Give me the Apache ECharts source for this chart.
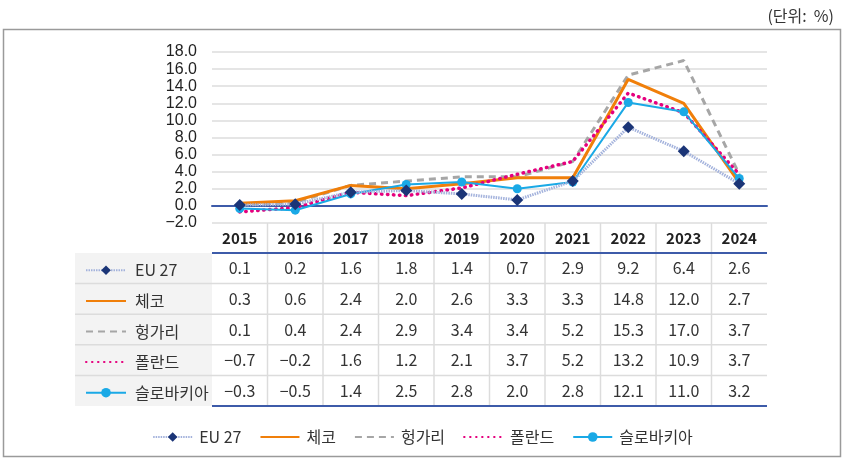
<!DOCTYPE html>
<html><head><meta charset="utf-8">
<script src="https://cdn.jsdelivr.net/npm/echarts@6/dist/echarts.min.js"></script>
<style>html,body{margin:0;padding:0;background:#fff}#c{width:845px;height:458px}</style>
</head><body><div id="c"></div>
<script>
const years = ['2015','2016','2017','2018','2019','2020','2021','2022','2023','2024'];
const seriesNames = ['EU 27','체코','헝가리','폴란드','슬로바키아'];
const eu27 = [0.1,0.2,1.6,1.8,1.4,0.7,2.9,9.2,6.4,2.6];
const czech = [0.3,0.6,2.4,2.0,2.6,3.3,3.3,14.8,12.0,2.7];
const hungary = [0.1,0.4,2.4,2.9,3.4,3.4,5.2,15.3,17.0,3.7];
const poland = [-0.7,-0.2,1.6,1.2,2.1,3.7,5.2,13.2,10.9,3.7];
const slovakia = [-0.3,-0.5,1.4,2.5,2.8,2.0,2.8,12.1,11.0,3.2];
const unitText = '(단위:  %)';
const yMin = -2, yMax = 18, yStep = 2;

const allData = [eu27, czech, hungary, poland, slovakia];
const fmt = v => (v < 0 ? '\u2212' + Math.abs(v).toFixed(1) : v.toFixed(1));

const GL = 212, GR = 767, AXY = 223, ROW0 = 253, ROWH = 30.6;
const KFONT = '"Noto Sans CJK KR","Noto Sans",sans-serif';
const LH = 12;

const chart = echarts.init(document.getElementById('c'));

const xAxes = [{
  type: 'category', data: years, position: 'bottom', boundaryGap: true,
  axisLine: {show: true, lineStyle: {color: '#3d5ba9', width: 2}},
  axisTick: {show: false}, splitLine: {show: false},
  axisLabel: {margin: 15, verticalAlign: 'middle', fontFamily: KFONT, fontSize: 15, fontWeight: 'bold', color: '#222'}
}];
allData.forEach((arr, k) => {
  xAxes.push({
    type: 'category', data: years, position: 'bottom', gridIndex: 0,
    offset: ROW0 + ROWH * (k + 0.5) - AXY,
    axisLine: {show: false}, axisTick: {show: false}, splitLine: {show: false},
    axisLabel: {margin: 0, verticalAlign: 'middle', fontFamily: KFONT, fontSize: 16, color: '#333',
      formatter: (v, i) => fmt(arr[i])}
  });
});

const lineStyles = [
  {color: '#a3b2dc', width: 3, type: [1.5, 1]},
  {color: '#f07f0a', width: 3, type: 'solid'},
  {color: '#a6a6a6', width: 3, type: [7, 5]},
  {color: '#e5007e', width: 3.5, type: [0.5, 5.5], cap: 'round'},
  {color: '#1aa9e6', width: 2, type: 'solid'}
];
const itemColors = ['#1b3577', '#f07f0a', '#a6a6a6', '#e5007e', '#1aa9e6'];
const symbols = ['diamond', 'none', 'none', 'none', 'circle'];
const symbolSizes = [12, 0, 0, 0, 9];
const zs = [6, 3, 2, 4, 5];

const series = allData.map((arr, k) => ({
  name: seriesNames[k], type: 'line', data: arr, xAxisIndex: 0,
  symbol: symbols[k], symbolSize: symbolSizes[k], showSymbol: symbols[k] !== 'none',
  lineStyle: lineStyles[k], itemStyle: {color: itemColors[k], borderWidth: 0}, z: zs[k],
  animation: false
}));

const legendData = seriesNames.map((n, k) => symbols[k] === 'none'
  ? {name: n, itemStyle: {color: 'rgba(0,0,0,0)', borderWidth: 0, borderColor: 'rgba(0,0,0,0)'}}
  : {name: n});

const legends = legendData.map((d, k) => ({
  orient: 'vertical', left: 85, top: ROW0 + ROWH * (k + 0.5) - LH / 2, padding: 0,
  itemWidth: 40, itemHeight: LH, data: [d],
  textStyle: {fontFamily: KFONT, fontSize: 16, color: '#333', padding: [0, 0, 0, 4]}
}));
legends.push({
  orient: 'horizontal', left: 'center', top: 429, padding: 0,
  itemWidth: 39, itemHeight: LH, itemGap: 18,
  data: legendData,
  textStyle: {fontFamily: KFONT, fontSize: 16, color: '#333', padding: [0, 0, 0, 2]}
});

const gfx = [];
gfx.push({type: 'rect', shape: {x: 3.5, y: 29.5, width: 837, height: 427}, style: {fill: 'none', stroke: '#9a9a9a', lineWidth: 1.5}, z: 0});
gfx.push({type: 'rect', shape: {x: 75, y: ROW0, width: GL - 75, height: ROWH * 5}, style: {fill: '#f3f3f3'}, z: 0});
for (let r = 1; r < 5; r++) {
  const y = ROW0 + ROWH * r;
  gfx.push({type: 'line', shape: {x1: 75, y1: y, x2: GR, y2: y}, style: {stroke: '#dcdcdc', lineWidth: 1.5}, z: 1});
}
const cw = (GR - GL) / years.length;
for (let i = 1; i < years.length; i++) {
  const x = GL + cw * i;
  gfx.push({type: 'line', shape: {x1: x, y1: AXY, x2: x, y2: ROW0 + ROWH * 5}, style: {stroke: '#dcdcdc', lineWidth: 1.5}, z: 1});
}
gfx.push({type: 'line', shape: {x1: GL, y1: ROW0, x2: GR, y2: ROW0}, style: {stroke: '#3d5ba9', lineWidth: 2}, z: 2});
gfx.push({type: 'line', shape: {x1: GL, y1: ROW0 + ROWH * 5, x2: GR, y2: ROW0 + ROWH * 5}, style: {stroke: '#3d5ba9', lineWidth: 2}, z: 2});

chart.setOption({
  animation: false,
  title: {text: unitText, right: 6, top: 3, textStyle: {fontFamily: KFONT, fontSize: 16, fontWeight: 'normal', color: '#333'}},
  grid: {left: GL, right: 845 - GR, top: 52, bottom: 458 - AXY, containLabel: false},
  xAxis: xAxes,
  yAxis: {
    type: 'value', min: yMin, max: yMax, interval: yStep,
    axisLine: {show: false}, axisTick: {show: false},
    splitLine: {lineStyle: {color: '#dcdcdc', width: 1.5}},
    axisLabel: {margin: 15, fontFamily: '"Liberation Sans",Arial,sans-serif', fontSize: 16, color: '#222', formatter: v => fmt(v)}
  },
  legend: legends,
  series: series,
  graphic: gfx
});
</script></body></html>
